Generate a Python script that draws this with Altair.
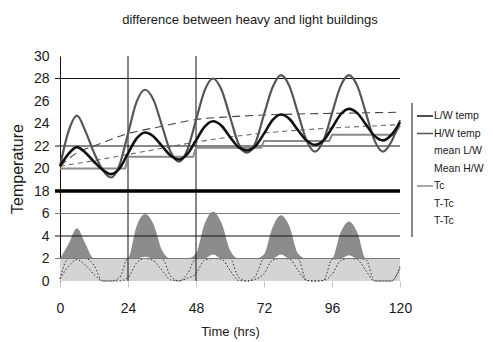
import altair as alt
import pandas as pd

TITLE = "difference between heavy and light buildings"

HOURS = [0, 3, 6, 9, 12, 15, 18, 21, 24, 27, 30, 33, 36, 39, 42, 45, 48, 51, 54, 57, 60,
         63, 66, 69, 72, 75, 78, 81, 84, 87, 90, 93, 96, 99, 102, 105, 108, 111, 114, 117, 120]
# large-swing grey curve
HW_TEMP = [20.2, 23.3, 24.7, 23.3, 21.4, 19.9, 19.2, 20.3, 23.1, 25.9, 27.0, 26.1, 23.8, 21.5, 20.6,
           21.7, 24.3, 26.9, 28.0, 27.0, 24.6, 22.2, 21.4, 22.3, 24.8, 27.2, 28.3, 27.3, 24.9, 22.5,
           21.5, 22.5, 24.9, 27.3, 28.3, 27.3, 24.9, 22.5, 21.5, 22.4, 24.3]
# small-swing black curve
LW_TEMP = [20.2, 21.3, 21.9, 21.4, 20.6, 19.9, 19.5, 20.0, 21.35, 22.65, 23.2, 22.85, 22.0, 21.15, 20.8,
           21.3, 22.5, 23.7, 24.2, 23.8, 22.8, 21.9, 21.6, 22.0, 23.1, 24.3, 24.8, 24.4, 23.4, 22.5,
           22.1, 22.5, 23.6, 24.8, 25.3, 24.9, 23.9, 22.9, 22.5, 23.0, 24.1]

MEAN_HOURS = [0, 6, 12, 24, 36, 48, 60, 72, 84, 96, 108, 120]
MEAN_UPPER = [20.2, 21.4, 22.0, 23.1, 23.75, 24.35, 24.6, 24.75, 24.85, 24.9, 24.95, 25.0]
MEAN_LOWER = [20.2, 20.45, 20.7, 21.25, 21.8, 22.35, 22.8, 23.15, 23.4, 23.6, 23.75, 23.9]

TC_HOURS = [0, 23, 24, 47, 48, 71, 72, 95, 96, 118, 120]
TC_TEMP = [20.0, 20.0, 21.05, 21.05, 21.85, 21.85, 22.45, 22.45, 23.0, 23.0, 23.8]
TC_DAILY = [20.0, 21.05, 21.85, 22.45, 23.0]

Y_LABELS = [0, 2, 4, 6, 18, 20, 22, 24, 26, 28, 30]
X_LABELS = [0, 24, 48, 72, 96, 120]
GRID_GREY = [2, 6]
GRID_BLACK = [4, 22, 28]
GRID_HEAVY = [18]
DAY_LINES = [24, 48]
BAND_TOP = 2

LEGEND_NAMES = ["L/W temp", "H/W temp", "mean L/W", "Mean H/W", "Tc", "T-Tc", "T-Tc "]
LEGEND_COLORS = ["#111111", "#555555", "transparent", "transparent", "#8a8a8a", "transparent", "transparent"]

BREAK = 10  # axis break: temperatures from 18 up are drawn 10 units lower


def disp(v):
    return v if v <= 6 else v - BREAK


FONT = "Liberation Sans"
W, H = 340, 225

xs = alt.Scale(domain=[0, 120], nice=False, zero=False)
ys = alt.Scale(domain=[0, 20], nice=False, zero=False, clamp=True)
x_axis = alt.Axis(values=X_LABELS, title="Time (hrs)", domain=False, grid=False,
                  ticks=True, tickColor="#c8c8c8", tickSize=6, labelOverlap=False,
                  labelFont=FONT, labelFontSize=14, labelColor="#1a1a1a", labelPadding=14,
                  labelFlush=False, titleFont=FONT, titleFontSize=13, titleFontWeight="normal",
                  titleColor="#1a1a1a", titlePadding=10)
y_axis = alt.Axis(values=[disp(v) for v in Y_LABELS],
                  labelExpr="datum.value <= 6 ? datum.label : format(datum.value + 10, 'd')",
                  title="Temperature", domain=True, domainColor="#111111", grid=False, ticks=False,
                  labelOverlap=False, labelFont=FONT, labelFontSize=14, labelColor="#1a1a1a",
                  labelPadding=11, labelFlush=False,
                  titleFont=FONT, titleFontSize=16, titleFontWeight="normal", titleColor="#1a1a1a",
                  titlePadding=8)


def X(f):
    return alt.X(f, type="quantitative", scale=xs, axis=x_axis)


def Y(f):
    return alt.Y(f, type="quantitative", scale=ys, axis=y_axis)


temps = pd.DataFrame({"t": HOURS,
                      "hw": [disp(v) for v in HW_TEMP],
                      "lw": [disp(v) for v in LW_TEMP]})
tc_at = [TC_DAILY[min(h // 24, len(TC_DAILY) - 1)] for h in HOURS]
d_hw = [a - c for a, c in zip(HW_TEMP, tc_at)]
d_lw = [a - c for a, c in zip(LW_TEMP, tc_at)]
diffs = pd.DataFrame({"t": HOURS,
                      # part of each difference inside the light-grey band
                      "l_hw": [min(v, BAND_TOP) for v in d_hw],
                      "l_lw": [min(v, BAND_TOP) for v in d_lw],
                      # part of each difference that rises above the band
                      "a_hw": [max(v, BAND_TOP) for v in d_hw],
                      "a_lw": [max(v, BAND_TOP) for v in d_lw],
                      "base": [BAND_TOP] * len(HOURS)})
means = pd.DataFrame({"t": MEAN_HOURS,
                      "up": [disp(v) for v in MEAN_UPPER],
                      "lo": [disp(v) for v in MEAN_LOWER]})
tc = pd.DataFrame({"t": TC_HOURS, "v": [disp(v) for v in TC_TEMP]})
band_df = pd.DataFrame({"t0": [0], "t1": [120], "b0": [0], "b1": [BAND_TOP]})
one = pd.DataFrame({"a": [0]})

band = alt.Chart(band_df).mark_rect(color="#d4d4d4").encode(
    x=X("t0"), x2="t1", y=Y("b0"), y2="b1")
dark_area = alt.Chart(diffs).mark_area(color="#8c8c8c", interpolate="monotone").encode(
    x=X("t"), y=Y("a_hw"), y2="base")
white_area = alt.Chart(diffs).mark_area(color="white", interpolate="monotone").encode(
    x=X("t"), y=Y("a_lw"), y2="base")
dot_hw = alt.Chart(diffs).mark_line(color="#333333", strokeWidth=1, strokeDash=[1.5, 2],
                                    interpolate="monotone").encode(x=X("t"), y=Y("l_hw"))
dot_lw = alt.Chart(diffs).mark_line(color="#333333", strokeWidth=1, strokeDash=[1.5, 2],
                                    interpolate="monotone").encode(x=X("t"), y=Y("l_lw"))


def hrules(values, color, width):
    df = pd.DataFrame({"v": [disp(v) for v in values]})
    return alt.Chart(df).mark_rule(color=color, strokeWidth=width).encode(
        y=Y("v"), x=alt.value(-5), x2=alt.value(W))


grid_grey = hrules(GRID_GREY, "#7a7a7a", 1.2)
grid_black = hrules(GRID_BLACK, "#111111", 1)
grid_heavy = hrules(GRID_HEAVY, "#000000", 3.5)
vlines = alt.Chart(pd.DataFrame({"t": DAY_LINES})).mark_rule(color="#111111", strokeWidth=1).encode(
    x=X("t"), y=alt.value(0), y2=alt.value(H))

tc_line = alt.Chart(tc).mark_line(color="#8a8a8a", strokeWidth=2).encode(x=X("t"), y=Y("v"))
mean_up = alt.Chart(means).mark_line(color="#444444", strokeWidth=1.1, strokeDash=[8, 5],
                                     interpolate="monotone").encode(x=X("t"), y=Y("up"))
mean_lo = alt.Chart(means).mark_line(color="#666666", strokeWidth=1.1, strokeDash=[5, 4],
                                     interpolate="monotone").encode(x=X("t"), y=Y("lo"))
hw_line = alt.Chart(temps).mark_line(color="#555555", strokeWidth=2.2, interpolate="monotone").encode(
    x=X("t"), y=Y("hw"))
lw_line = alt.Chart(temps).mark_line(color="#111111", strokeWidth=2.6, interpolate="monotone").encode(
    x=X("t"), y=Y("lw"))

legend_df = pd.DataFrame({"t": [-50] * len(LEGEND_NAMES), "v": [-50] * len(LEGEND_NAMES), "s": LEGEND_NAMES})
legend_layer = alt.Chart(legend_df).mark_line(clip=True, strokeWidth=1.5).encode(
    x=X("t"), y=Y("v"),
    color=alt.Color("s:N", scale=alt.Scale(domain=LEGEND_NAMES, range=LEGEND_COLORS),
                    legend=alt.Legend(title=None, orient="none", legendX=352, legendY=47,
                                      direction="vertical", symbolType="stroke", symbolSize=256,
                                      symbolStrokeWidth=1.5, labelFont=FONT, labelFontSize=10.5,
                                      labelColor="#1a1a1a", rowPadding=2.5, padding=4, labelOffset=0,
                                      labelLimit=80)))

border_l = alt.Chart(one).mark_rule(color="#111111", strokeWidth=1).encode(
    x=alt.value(352), y=alt.value(47), y2=alt.value(181))
border_r = alt.Chart(one).mark_rule(color="#111111", strokeWidth=1).encode(
    x=alt.value(428), y=alt.value(47), y2=alt.value(181))

chart = alt.layer(
    band, dark_area, white_area, dot_hw, dot_lw,
    grid_grey, grid_black, grid_heavy, vlines,
    tc_line, mean_up, mean_lo, hw_line, lw_line,
    legend_layer, border_l, border_r,
).properties(
    width=W, height=H,
    title=alt.TitleParams(TITLE, font=FONT, fontSize=13, fontWeight="normal", color="#1a1a1a",
                          anchor="middle", offset=22, dx=20),
    autosize=alt.AutoSizeParams(type="none"),
    padding={"left": 52, "top": 48, "right": 85, "bottom": 58},
).configure_view(stroke=None)

chart.save("out.html", embed_options={"renderer": "svg", "actions": False})
